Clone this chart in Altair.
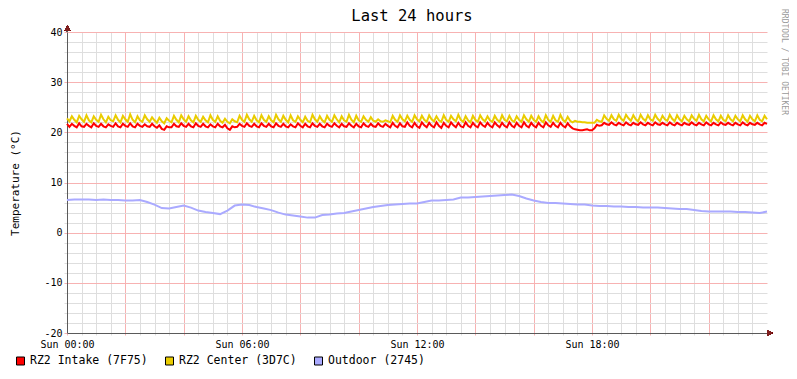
import altair as alt
import pandas as pd

# ---------------- data ----------------
title_text = "Last 24 hours"
y_title = "Temperature (°C)"
watermark = "RRDTOOL / TOBI OETIKER"
series_names = ["RZ2 Intake (7F75)", "RZ2 Center (3D7C)", "Outdoor (2745)"]
series_colors = ["#FF0000", "#EACC00", "#AAAAFF"]
x_tick_hours = [0, 6, 12, 18]
x_tick_labels = ["Sun 00:00", "Sun 06:00", "Sun 12:00", "Sun 18:00"]

# RZ2 Center, one value every 5 minutes (rows = hours)
center_values = [
    22.8, 22.2, 23.2, 22.5, 22.0, 23.3, 22.6, 22.1, 23.4, 22.4, 22.0, 23.2,
    22.5, 22.1, 23.5, 22.6, 22.0, 23.1, 22.4, 22.2, 23.4, 22.5, 22.0, 23.3,
    22.6, 22.1, 23.6, 22.5, 22.0, 23.2, 22.4, 22.1, 23.4, 22.6, 22.1, 23.0,
    22.4, 21.9, 22.9, 22.2, 21.8, 22.8, 22.3, 22.0, 23.3, 22.5, 22.0, 23.4,
    22.6, 22.1, 23.2, 22.4, 22.0, 23.3, 22.5, 22.1, 23.1, 22.4, 22.0, 23.4,
    22.5, 22.1, 23.2, 22.3, 21.9, 22.7, 22.1, 21.8, 22.6, 22.2, 22.0, 23.3,
    22.5, 22.1, 23.5, 22.6, 22.1, 23.3, 22.4, 22.0, 23.4, 22.5, 22.1, 23.2,
    22.4, 22.0, 23.5, 22.6, 22.1, 23.3, 22.5, 22.0, 23.4, 22.4, 22.1, 23.2,
    22.5, 22.0, 23.1, 22.3, 22.0, 23.5, 22.6, 22.1, 23.2, 22.4, 22.0, 23.3,
    22.5, 22.1, 23.4, 22.6, 22.0, 23.2, 22.4, 22.1, 23.5, 22.5, 22.0, 23.3,
    22.4, 22.1, 23.2, 22.5, 22.1, 23.0, 22.3, 22.1, 22.6, 22.2, 22.1, 22.4,
    22.2, 22.0, 23.3, 22.5, 22.1, 23.4, 22.6, 22.2, 23.3, 22.5, 22.1, 23.4,
    22.6, 22.2, 23.3, 22.5, 22.1, 23.4, 22.6, 22.2, 23.2, 22.4, 22.1, 23.4,
    22.5, 22.1, 23.3, 22.6, 22.2, 23.5, 22.5, 22.1, 23.2, 22.4, 22.0, 23.3,
    22.5, 22.1, 23.4, 22.6, 22.2, 23.2, 22.4, 22.1, 23.3, 22.5, 22.1, 23.4,
    22.5, 22.2, 23.3, 22.4, 22.1, 23.2, 22.5, 22.1, 23.4, 22.6, 22.1, 23.3,
    22.5, 22.1, 23.2, 22.4, 22.0, 23.4, 22.5, 22.1, 23.3, 22.4, 22.1, 23.5,
    22.5, 22.1, 23.1, 22.3, 22.0, 22.3, 22.1, 22.1, 22.0, 22.0, 21.9, 21.9,
    21.9, 21.9, 22.5, 22.2, 22.1, 23.4, 22.7, 22.3, 23.4, 22.6, 22.3, 23.5,
    22.7, 22.3, 23.5, 22.8, 22.3, 23.4, 22.6, 22.2, 23.5, 22.7, 22.3, 23.4,
    22.6, 22.3, 23.5, 22.7, 22.2, 23.3, 22.6, 22.3, 23.5, 22.7, 22.2, 23.4,
    22.6, 22.2, 23.3, 22.6, 22.2, 23.4, 22.7, 22.3, 23.5, 22.6, 22.2, 23.3,
    22.6, 22.2, 23.4, 22.6, 22.2, 23.3, 22.5, 22.2, 23.4, 22.6, 22.2, 23.3,
    22.6, 22.2, 23.4, 22.6, 22.1, 23.3, 22.6, 22.2, 23.4, 22.5, 22.2, 23.3,
    22.6,
]

# RZ2 Intake, one value every 5 minutes (rows = hours)
intake_values = [
    21.7, 21.1, 21.7, 21.3, 21.0, 21.8, 21.2, 21.1, 21.7, 21.3, 21.0, 21.8,
    21.3, 21.1, 21.7, 21.2, 21.0, 21.6, 21.3, 21.1, 21.8, 21.2, 21.0, 21.7,
    21.3, 21.1, 21.8, 21.2, 21.0, 21.7, 21.3, 21.1, 21.6, 21.2, 21.1, 21.7,
    21.2, 20.9, 21.4, 20.7, 20.5, 21.2, 21.0, 21.0, 21.7, 21.2, 21.1, 21.8,
    21.3, 21.1, 21.7, 21.2, 21.0, 21.8, 21.3, 21.1, 21.7, 21.2, 21.0, 21.6,
    21.2, 21.0, 21.7, 21.2, 21.0, 21.5, 20.8, 20.5, 21.2, 21.0, 21.1, 21.7,
    21.3, 21.1, 21.8, 21.3, 21.1, 21.7, 21.2, 21.0, 21.8, 21.3, 21.1, 21.7,
    21.2, 21.0, 21.8, 21.3, 21.1, 21.7, 21.2, 21.0, 21.6, 21.2, 21.0, 21.8,
    21.3, 21.0, 21.7, 21.2, 21.0, 21.8, 21.3, 21.1, 21.7, 21.2, 21.0, 21.7,
    21.3, 21.1, 21.8, 21.3, 21.0, 21.7, 21.2, 21.1, 21.8, 21.3, 21.0, 21.7,
    21.2, 21.0, 21.8, 21.3, 21.1, 21.7, 21.2, 21.1, 21.8, 21.3, 21.1, 21.7,
    21.3, 21.0, 21.9, 21.3, 21.0, 21.8, 21.2, 21.1, 22.0, 21.3, 21.0, 21.9,
    21.2, 20.9, 22.0, 21.4, 21.0, 21.9, 21.3, 21.0, 22.0, 21.3, 20.9, 21.9,
    21.3, 21.0, 22.0, 21.4, 21.0, 21.9, 21.2, 21.0, 22.0, 21.3, 21.0, 21.9,
    21.3, 21.0, 22.0, 21.4, 21.1, 21.9, 21.3, 21.0, 22.0, 21.4, 21.0, 21.9,
    21.3, 21.0, 22.0, 21.3, 21.0, 21.9, 21.3, 21.0, 22.0, 21.3, 21.0, 21.9,
    21.3, 21.0, 21.9, 21.3, 21.0, 22.0, 21.4, 21.1, 21.9, 21.3, 21.0, 21.9,
    21.3, 21.0, 21.8, 21.2, 20.8, 20.6, 20.5, 20.4, 20.4, 20.5, 20.6, 20.4,
    20.4, 20.8, 21.5, 21.3, 21.4, 21.9, 21.6, 21.5, 22.0, 21.6, 21.4, 21.9,
    21.6, 21.4, 22.0, 21.6, 21.4, 21.9, 21.6, 21.5, 22.0, 21.6, 21.4, 21.9,
    21.6, 21.4, 22.0, 21.6, 21.5, 21.9, 21.6, 21.4, 22.0, 21.6, 21.4, 21.9,
    21.6, 21.4, 21.9, 21.6, 21.5, 22.0, 21.6, 21.4, 21.9, 21.6, 21.4, 22.0,
    21.6, 21.4, 21.9, 21.6, 21.4, 22.0, 21.6, 21.5, 21.9, 21.6, 21.4, 21.9,
    21.6, 21.4, 22.0, 21.6, 21.4, 21.9, 21.6, 21.5, 21.9, 21.6, 21.4, 21.9,
    21.7,
]

# Outdoor, one value every 15 minutes
outdoor_values = [
    6.5, 6.6, 6.6, 6.6, 6.5, 6.6, 6.5, 6.5, 6.4, 6.4, 6.5, 6.1,
    5.6, 4.9, 4.8, 5.1, 5.4, 5.0, 4.4, 4.1, 3.9, 3.7, 4.4, 5.4,
    5.6, 5.5, 5.1, 4.8, 4.5, 4.0, 3.6, 3.4, 3.2, 3.0, 3.0, 3.5,
    3.6, 3.8, 3.9, 4.2, 4.5, 4.8, 5.1, 5.3, 5.5, 5.6, 5.7, 5.8,
    5.8, 6.1, 6.4, 6.4, 6.5, 6.6, 7.0, 7.0, 7.1, 7.2, 7.3, 7.4,
    7.5, 7.6, 7.3, 6.8, 6.4, 6.1, 5.9, 5.9, 5.8, 5.7, 5.6, 5.6,
    5.4, 5.3, 5.3, 5.2, 5.2, 5.1, 5.1, 5.0, 5.0, 5.0, 4.9, 4.8,
    4.7, 4.7, 4.5, 4.3, 4.2, 4.2, 4.2, 4.2, 4.1, 4.1, 4.0, 3.9,
    4.2,
]

# ---------------- tables ----------------
fine_hours = [i / 12 for i in range(len(center_values))]
outdoor_hours = [i / 4 for i in range(len(outdoor_values))]
df_intake = pd.DataFrame({"h": fine_hours, "t": intake_values})
df_center = pd.DataFrame({"h": fine_hours, "t": center_values})
df_outdoor = pd.DataFrame({"h": outdoor_hours, "t": outdoor_values})

FONT = "DejaVu Sans Mono"
W, H = 700, 301
MAJOR = "#F7B2B2"
MINOR = "#DEDEDE"
AXIS = "#5A5A5A"
ARROW = "#7F1F1F"

label_expr = " : ".join(
    f"datum.value == {h} ? '{lab}'" for h, lab in zip(x_tick_hours, x_tick_labels)
) + " : ''"

x_enc = alt.X(
    "h:Q",
    scale=alt.Scale(domain=[0, 24], nice=False, zero=False),
    axis=alt.Axis(
        title=None,
        values=[i / 2 for i in range(48)],
        labelExpr=label_expr,
        labelOverlap=False,
        labelFlush=False,
        labelFont=FONT,
        labelFontSize=10,
        labelColor="#000000",
        labelPadding=4,
        tickSize=2,
        tickColor={"condition": {"test": "datum.value % 2 === 0", "value": MAJOR}, "value": MINOR},
        gridColor={"condition": {"test": "datum.value % 2 === 0", "value": MAJOR}, "value": MINOR},
        gridWidth=1,
        domainColor=AXIS,
        domainWidth=1,
    ),
)
y_enc = alt.Y(
    "t:Q",
    scale=alt.Scale(domain=[-20, 40], nice=False, zero=False),
    axis=alt.Axis(
        title=y_title,
        titleFont=FONT,
        titleFontSize=11,
        titleFontWeight="normal",
        titleColor="#000000",
        titleX=-52,
        titleY=H / 2,
        titleAngle=-90,
        titleAlign="center",
        titleBaseline="middle",
        values=list(range(-20, 41, 2)),
        labelExpr="datum.value % 10 === 0 ? datum.value : ''",
        labelFont=FONT,
        labelFontSize=10,
        labelColor="#000000",
        labelPadding=2,
        tickSize=3,
        tickColor={"condition": {"test": "datum.value % 10 === 0", "value": MAJOR}, "value": MINOR},
        gridColor={"condition": {"test": "datum.value % 10 === 0", "value": MAJOR}, "value": MINOR},
        gridWidth=1,
        domainColor=AXIS,
        domainWidth=1,
    ),
)

def series(df, color):
    return alt.Chart(df).mark_line(color=color, strokeWidth=2, interpolate="linear").encode(
        x=x_enc, y=y_enc
    )

lines = [series(df_intake, series_colors[0]), series(df_center, series_colors[1]),
         series(df_outdoor, series_colors[2])]

# axis extensions and arrows
x_ext = alt.Chart(df_intake).mark_rule(color=AXIS, strokeWidth=1).encode(
    x=alt.value(W), x2=alt.value(W + 4), y=alt.value(H))
y_ext = alt.Chart(df_intake).mark_rule(color=AXIS, strokeWidth=1).encode(
    x=alt.value(0), y=alt.value(-4), y2=alt.value(0))
x_arrow = alt.Chart(df_intake).mark_point(shape="triangle-right", filled=True, size=28,
                                          color=ARROW, opacity=1).encode(
    x=alt.value(W + 3), y=alt.value(H))
y_arrow = alt.Chart(df_intake).mark_point(shape="triangle-up", filled=True, size=28,
                                          color=ARROW, opacity=1).encode(
    x=alt.value(0.5), y=alt.value(-4))

def label(text, size, x, y, align, color="#000000", angle=0):
    return alt.Chart(pd.DataFrame({"k": [0]})).mark_text(
        text=text, font=FONT, fontSize=size, fill=color, strokeWidth=0,
        align=align, baseline="middle", angle=angle
    ).encode(x=alt.value(x), y=alt.value(y))

title_mark = label(title_text, 15.5, 345, -16, "center")
wm = label(watermark, 8, 717, -23, "left", color="#9A9A9A", angle=90)

# legend
legend_layers = []
sq_x = [-46.5, 102.5, 251.5]
tx_x = [-37, 112, 261]
for name, col, sx, tx in zip(series_names, series_colors, sq_x, tx_x):
    legend_layers.append(
        alt.Chart(pd.DataFrame({"k": [0]})).mark_square(
            size=64, filled=True, fill=col, stroke="#000000", strokeWidth=1, opacity=1
        ).encode(x=alt.value(sx), y=alt.value(329))
    )
    legend_layers.append(label(name, 11.5, tx, 329, "left"))

chart = alt.layer(
    *lines, x_ext, y_ext, x_arrow, y_arrow, title_mark, wm, *legend_layers
).properties(
    width=W, height=H,
    autosize=alt.AutoSizeParams(type="none"),
    padding={"left": 59, "top": 24, "right": 22, "bottom": 34},
    background="#FFFFFF",
).configure_view(stroke=None)

chart.save("out.html", embed_options={"renderer": "svg", "actions": False})
